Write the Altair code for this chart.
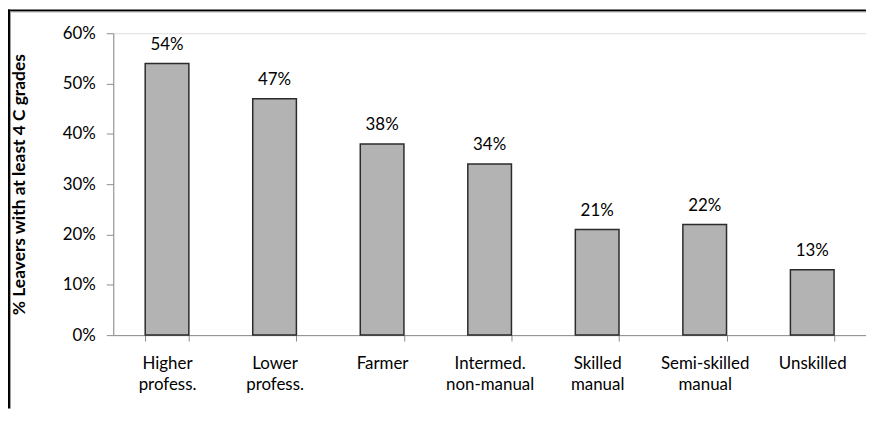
import altair as alt
import pandas as pd

categories = ["Higher|profess.", "Lower|profess.", "Farmer", "Intermed.|non-manual",
              "Skilled|manual", "Semi-skilled|manual", "Unskilled"]
values = [0.54, 0.47, 0.38, 0.34, 0.21, 0.22, 0.13]
y_ticks = [0, 0.1, 0.2, 0.3, 0.4, 0.5, 0.6]

df = pd.DataFrame({"cat": categories, "val": values})

W, H = 758, 304
PL, PT, PB = 106, 24, 74
FONT = "Lato"
AXC = "#8c8c8c"

x = alt.X("cat:N", sort=categories,
          scale=alt.Scale(paddingInner=0.594, paddingOuter=0.297),
          axis=alt.Axis(title=None, labelAngle=0, labelExpr="split(datum.label, '|')",
                        tickBand="extent", domainColor=AXC, tickColor=AXC, tickSize=6,
                        labelPadding=15, labelFont=FONT, labelFontSize=17, labelLineHeight=21,
                        labelColor="#000000", labelBaseline="top"))
y = alt.Y("val:Q", scale=alt.Scale(domain=[0, 0.6]),
          axis=alt.Axis(format=".0%", values=y_ticks, grid=False,
                        title="% Leavers with at least 4 C grades",
                        titleFont=FONT, titleFontSize=17.5, titleFontWeight="bold",
                        titleColor="#000000", titleX=-85.5, titleY=H / 2,
                        domainColor=AXC, tickColor=AXC, tickSize=7, labelPadding=11,
                        labelFont=FONT, labelFontSize=17, labelColor="#000000"))

base = alt.Chart(df)
bars = base.mark_bar(fill="#b3b3b3", stroke="#2b2b2b", strokeWidth=1.5).encode(x=x, y=y)
text = base.mark_text(dy=-14, baseline="alphabetic", font=FONT, fontSize=17,
                      color="#000000").encode(
    x=alt.X("cat:N", sort=categories), y="val:Q",
    text=alt.Text("val:Q", format=".0%"))

one = alt.Chart(pd.DataFrame({"a": [0]}))
top_black = one.mark_rule(color="#000000", strokeWidth=2).encode(
    x=alt.value(-PL), x2=alt.value(W), y=alt.value(1 - PT))
top_gray = one.mark_rule(color="#9a9a9a", strokeWidth=1).encode(
    x=alt.value(-PL + 2), x2=alt.value(W), y=alt.value(2.5 - PT))
left_black = one.mark_rule(color="#000000", strokeWidth=2).encode(
    y=alt.value(-PT), y2=alt.value(H + PB), x=alt.value(1 - PL))
left_gray = one.mark_rule(color="#9a9a9a", strokeWidth=1).encode(
    y=alt.value(2 - PT), y2=alt.value(H + PB), x=alt.value(2.5 - PL))

chart = alt.layer(bars, text, top_black, top_gray, left_black, left_gray).properties(
    width=W, height=H,
    autosize=alt.AutoSizeParams(type="none"),
    padding={"left": PL, "top": PT, "right": 0, "bottom": PB},
).configure_view(stroke="transparent", strokeWidth=0).configure(background="white")

chart.save("out.html", embed_options={"renderer": "svg", "actions": False})
